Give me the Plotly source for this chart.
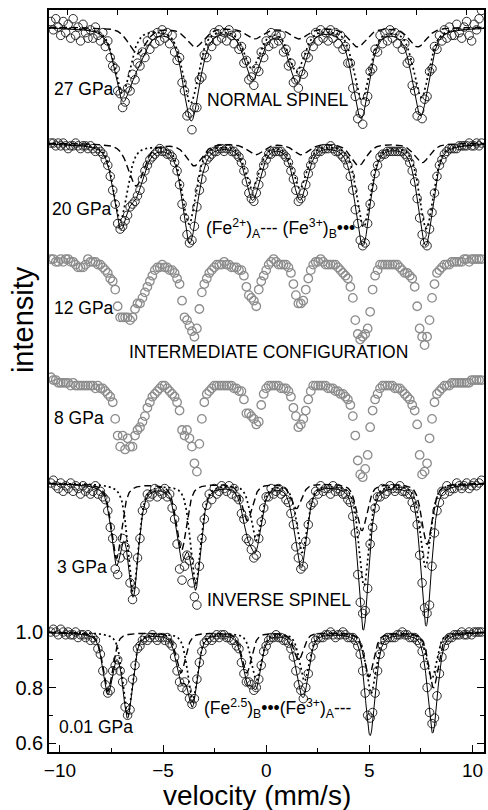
import numpy as np
import plotly.graph_objects as go

# ---------------- data ----------------
# velocity channels (mm/s)
v_start, v_step, n_ch = -10.44, 0.12, 175
velocity = np.round(v_start + v_step * np.arange(n_ch), 2)

pressures = ["27 GPa", "20 GPa", "12 GPa", "8 GPa", "3 GPa", "0.01 GPa"]
# vertical offset of each spectrum (intensity units)
offsets = [2.180, 1.762, 1.344, 0.908, 0.537, 0.0]

# measured absorption (% of baseline) at each velocity channel
absorption_27 = [-2, 1, -3, 0,
                 3, -2, 2, -1, 4, -3, 3, 0, 5, -1, 2, 4, 1,
                 4, 0, 3,
                 5, 2, 7, 5, 11,
                 14, 15, 23, 24, 29, 27, 22, 23, 17, 19, 13, 14, 9,
                 11, 5, 8, 3, 6, 2, 5, 1, 4, 2, 6, 3, 9,
                 12, 11, 20, 23, 32, 31, 37, 29, 29, 19, 18, 10,
                 11, 5, 7, 2, 5, 1, 4, 2, 5, 1, 3, 6, 3, 8, 7,
                 13, 12, 19, 18, 21, 15, 16, 9,
                 11, 5, 7, 2, 6, 3, 5, 3, 9, 8,
                 14, 13, 20, 19, 22, 16, 17, 10,
                 11, 5, 7, 2, 5, 1, 4, 2, 5, 1, 4, 2, 6, 3, 8, 7,
                 13, 13, 22, 25, 33, 31, 35, 27, 25, 16, 15,
                 8, 9, 3, 6, 2, 5, 1, 4, 2, 6, 3, 8, 6,
                 13, 12, 21, 23, 32, 30, 33, 26, 25, 16, 15,
                 7, 8, 3, 5, 1, 4, 0, 3,
                 3, -1, 2, 4, 0, -2, 3, 5, -1, 1, -3, -6]
absorption_20 = [0, 0, 1, 0,
                 1, 0, 1, 2, 1, 1, 0, 1, 2, 1, 1, 2, 1,
                 2, 3, 2,
                 3, 4, 6, 8,
                 12, 17, 22, 29, 31, 30, 28, 26, 23, 22, 21, 19, 17, 13, 10,
                 8, 6, 5, 4, 3, 2, 3, 3, 4, 4, 5, 7,
                 10, 15, 22, 27, 33, 36, 35, 30, 23, 17, 13,
                 9, 6, 5, 4, 3, 3, 2, 2, 3, 2, 2, 3, 3, 4, 5, 7,
                 10, 14, 18, 20, 21, 18, 15, 11,
                 8, 6, 4, 4, 3, 3, 3, 3, 4, 5, 7,
                 10, 13, 17, 21, 20, 18, 15, 11,
                 8, 6, 4, 3, 3, 2, 2, 2, 1, 2, 3, 3, 4, 5, 6, 8,
                 12, 17, 24, 29, 35, 37, 36, 29, 22, 16, 11,
                 8, 5, 4, 4, 3, 3, 3, 3, 3, 3, 3, 4, 5, 7,
                 10, 14, 20, 27, 33, 36, 37, 31, 25, 18, 12,
                 8, 6, 4, 3, 2, 2, 2, 2,
                 1, 1, 1, 1, 0, 1, 1, 0, 1, 0]
absorption_12 = [0, 0, 1, 1, 0, 1, 0, 0, 1, 1, 2, 3, 3, 3, 2, 0, 1, 1, 1, 2,
                 2, 3, 4, 5, 7, 8, 11, 17, 21, 21, 21, 21, 22, 21, 18, 16, 16, 14, 12, 10,
                 8, 6, 4, 3, 3, 2, 3, 3, 4, 4, 5, 7, 9, 15, 21, 22, 24, 26, 28, 25,
                 18, 12, 9, 7, 5, 4, 3, 2, 2, 2, 1, 2, 2, 3, 3, 3, 4, 4, 6, 10,
                 13, 14, 15, 17, 11, 8, 6, 4, 2, 1, 0, 1, 2, 2, 2, 2, 3, 5, 9, 13,
                 16, 16, 15, 11, 7, 4, 2, 1, 1, 0, 1, 2, 2, 2, 2, 2, 3, 4, 5, 6,
                 7, 10, 14, 22, 27, 29, 28, 27, 25, 19, 11, 6, 4, 2, 2, 2, 2, 2, 2, 2,
                 2, 3, 4, 5, 5, 6, 7, 10, 17, 25, 28, 31, 28, 22, 14, 9, 5, 4, 3, 2,
                 2, 2, 1, 1, 1, 1, 1, 0, 0, 1, 0, 0, 0, 0, 0]
absorption_8 = [-1, 0, 0, 1, 1, 1, 1, 1, 2, 1, 2, 2, 2, 2, 2, 2, 2, 2, 3, 2,
                3, 3, 4, 5, 6, 8, 14, 20, 24, 20, 25, 21, 24, 24, 20, 18, 17, 15, 13, 10,
                8, 6, 5, 4, 3, 2, 2, 3, 4, 5, 6, 8, 11, 18, 20, 18, 21, 24, 30, 33,
                23, 14, 8, 5, 4, 3, 2, 2, 2, 2, 2, 2, 2, 2, 3, 3, 4, 4, 7, 12,
                12, 13, 14, 16, 15, 9, 5, 3, 2, 2, 2, 2, 2, 3, 3, 3, 4, 6, 10, 13,
                17, 16, 14, 11, 7, 4, 2, 2, 2, 2, 2, 2, 3, 3, 3, 4, 4, 5, 5, 6,
                7, 9, 13, 20, 29, 34, 35, 32, 27, 17, 11, 7, 5, 3, 2, 2, 2, 2, 2, 3,
                3, 3, 4, 5, 6, 7, 9, 11, 16, 27, 34, 33, 30, 21, 14, 8, 5, 4, 3, 2,
                2, 2, 1, 1, 1, 1, 1, 1, 1, 1, 0, 0, 0, 0, 0]
absorption_3 = [0, -1, 1, 2, 0, 3, 1,
                2, 0, 3, 1, 2, 4, 1, 3, 2, 4,
                3, 1, 4, 3, 5, 6, 10,
                16, 20, 31, 33, 27, 20, 23, 26, 36, 42, 39, 27, 20, 10,
                8, 4, 5, 4, 2, 5, 3, 4, 2, 5, 4, 9,
                13, 22, 31, 35, 30, 26, 28, 36, 41, 44, 30, 20, 13,
                8, 4, 6, 2, 4, 3, 1, 2, 3, 1, 4, 2, 5, 6,
                11, 13, 20, 21, 24, 27, 26, 20, 14,
                9, 5, 5, 2, 4, 3, 2, 4, 3, 6, 7,
                11, 15, 23, 27, 31, 30, 21, 15,
                8, 7, 3, 4, 1, 3, 2, 2, 4, 1, 3, 2, 3, 4, 4, 6, 7,
                12, 18, 33, 43, 47, 46, 38, 22, 16,
                9, 5, 5, 2, 4, 3, 1, 2, 3, 2, 1, 3, 3, 4, 4, 7, 9,
                15, 26, 36, 45, 47, 44, 30, 18, 10,
                7, 3, 4, 1, 3, 2, 2, 0, 1, 2, 1, 0, 2, 1, 0, 1, 0, -1]
absorption_001 = [0, -1, 0, 1, -1, 0, 1, 0, 1,
                  1, 0, 2, 1, 1, 2, 1, 3, 2, 3, 6, 8,
                  14, 19, 22, 21, 14, 12, 10, 14, 18, 27, 30, 28, 17, 12,
                  6, 5, 3, 2, 3, 2, 1, 2, 3, 2, 2, 3, 2, 4, 5, 9,
                  14, 18, 20, 18, 21, 24, 26, 24, 17, 11,
                  7, 4, 3, 2, 3, 2, 1, 2, 1, 1, 2, 2, 3, 3, 5, 6,
                  11, 15, 18, 18, 19, 21, 20, 17, 12,
                  7, 5, 3, 2, 2, 1, 2, 2, 3, 3, 4, 6, 9,
                  14, 19, 21, 24, 20, 15,
                  9, 5, 3, 2, 2, 2, 1, 1, 0, 1, 2, 1, 1, 0, 1, 2, 2, 2, 3, 5, 8,
                  14, 22, 30, 31, 29, 22, 14,
                  8, 5, 3, 2, 2, 2, 2, 1, 1, 0, 1, 1, 2, 2, 2, 3, 4, 7,
                  12, 20, 29, 33, 31, 23, 15,
                  9, 5, 3, 2, 2, 1, 1, 1, 0, 1, 1, 0, 1, 0, 0, 0, 0]
absorption = [absorption_27, absorption_20, absorption_12, absorption_8, absorption_3, absorption_001]
fitted = [True, True, False, False, True, True]

# fitted sub-spectra (line position mm/s, depth, half width)
# dashed = site giving the "---" sub-spectrum, dotted = "•••" sub-spectrum
dash_pos = {"27 GPa": [-6.26, -3.44, -0.56, 1.60, 4.43, 7.35], "20 GPa": [-6.31, -3.49, -0.52, 1.70, 4.48, 7.55],
            "3 GPa": [-7.26, -4.11, -0.92, 1.46, 4.64, 7.80], "0.01 GPa": [-7.68, -4.14, -0.95, 1.57, 4.98, 8.11]}
dash_depth = {"27 GPa": [0.095, 0.07, 0.04, 0.04, 0.07, 0.07], "20 GPa": [0.154, 0.08, 0.04, 0.04, 0.08, 0.07],
              "3 GPa": [0.27, 0.242, 0.133, 0.09, 0.17, 0.22], "0.01 GPa": [0.213, 0.146, 0.146, 0.10, 0.16, 0.20]}
dash_hw = {"27 GPa": 0.50, "20 GPa": 0.45, "3 GPa": 0.30, "0.01 GPa": 0.28}
dot_pos = {"27 GPa": [-6.97, -3.67, -0.69, 1.47, 4.63, 7.52], "20 GPa": [-7.07, -3.74, -0.68, 1.63, 4.72, 7.76],
           "3 GPa": [-6.45, -3.42, -0.49, 1.74, 4.74, 7.72], "0.01 GPa": [-6.72, -3.57, -0.48, 1.85, 5.08, 8.02]}
dot_depth = {"27 GPa": [0.236, 0.271, 0.142, 0.154, 0.259, 0.25], "20 GPa": [0.275, 0.288, 0.161, 0.158, 0.298, 0.305],
             "3 GPa": [0.39, 0.358, 0.202, 0.246, 0.366, 0.30], "0.01 GPa": [0.30, 0.248, 0.171, 0.175, 0.22, 0.17]}
dot_hw = {"27 GPa": 0.45, "20 GPa": 0.40, "3 GPa": 0.30, "0.01 GPa": 0.28}

x_ticks = [-10, -5, 0, 5, 10]
y_ticks = [0.6, 0.8, 1.0]


# ---------------- figure ----------------
def subspectrum(v, pos, depth, hw):
    out = np.zeros_like(v)
    for p, d in zip(pos, depth):
        r = ((v - p) / hw) ** 2
        out += d * (0.5 / (1 + r) + 0.5 * np.exp(-np.log(2) * r))
    return out


x_range = [-10.53, 10.56]
v_fine = np.linspace(x_range[0], x_range[1], 1500)
fig = go.Figure()
for name, off, absn, fit in zip(pressures, offsets, absorption, fitted):
    col = "#2a2a2a" if fit else "#8c8c8c"
    y = 1 - np.array(absn) / 100.0 + off
    fig.add_trace(go.Scatter(x=velocity, y=y, mode="markers", name=name,
                             marker=dict(symbol="circle-open", size=8.5, color=col,
                                         line=dict(width=1.0 if fit else 1.3, color=col)),
                             showlegend=False, hoverinfo="skip"))
    if fit:
        a = subspectrum(v_fine, dash_pos[name], dash_depth[name], dash_hw[name])
        b = subspectrum(v_fine, dot_pos[name], dot_depth[name], dot_hw[name])
        fig.add_trace(go.Scatter(x=v_fine, y=1 - a + off, mode="lines", showlegend=False, hoverinfo="skip",
                                 line=dict(color="black", width=1.4, dash="7px,4px")))
        fig.add_trace(go.Scatter(x=v_fine, y=1 - b + off, mode="lines", showlegend=False, hoverinfo="skip",
                                 line=dict(color="black", width=1.7, dash="2px,3px")))
        fig.add_trace(go.Scatter(x=v_fine, y=1 - a - b + off, mode="lines", showlegend=False, hoverinfo="skip",
                                 line=dict(color="black", width=1.0)))

# invisible trace so the top (mirror) tick axis is drawn
fig.add_trace(go.Scatter(x=[0], y=[1], xaxis="x2", mode="markers", marker=dict(opacity=0),
                         showlegend=False, hoverinfo="skip"))

FONT = "Liberation Sans, Arial, sans-serif"
fig.update_layout(
    width=488, height=810, margin=dict(l=49, r=2, t=10, b=58),
    paper_bgcolor="white", plot_bgcolor="white", font=dict(family=FONT, color="black"),
    xaxis=dict(range=x_range, tickvals=x_ticks, ticks="inside", ticklen=7, tickwidth=1.3, tickcolor="black",
               minor=dict(tickvals=[-7.5, -2.5, 2.5, 7.5], ticks="inside", ticklen=4, tickwidth=1.3, tickcolor="black"),
               showline=True, linecolor="black", linewidth=1.6, mirror=True, showgrid=False, zeroline=False,
               tickfont=dict(size=19)),
    xaxis2=dict(range=[-10.95, 10.9], overlaying="x", side="top",
                tickvals=[-10, -7.5, -5, -2.5, 0, 2.5, 5, 7.5, 10], ticks="inside", ticklen=5, tickwidth=1.3,
                tickcolor="black", showticklabels=False, showgrid=False, zeroline=False, showline=False),
    yaxis=dict(range=[0.5676, 3.2415], tickvals=y_ticks, ticktext=["%.1f" % t for t in y_ticks], ticks="inside",
               ticklen=7, tickwidth=1.3, tickcolor="black",
               minor=dict(tickvals=[0.7, 0.9], ticks="inside", ticklen=4, tickwidth=1.3, tickcolor="black"),
               showline=True, linecolor="black", linewidth=1.6, mirror="ticks", showgrid=False, zeroline=False,
               tickfont=dict(size=20)),
)


def px2paper(px, py):
    return (px - 49) / 437, (752 - py) / 742


labels = [("27 GPa", 52, 89), ("NORMAL SPINEL", 206, 100), ("20 GPa", 50, 209),
          ("(Fe<sup>2+</sup>)<sub>A</sub>--- (Fe<sup>3+</sup>)<sub>B</sub>•••", 205, 228),
          ("12 GPa", 52, 308), ("INTERMEDIATE CONFIGURATION", 127, 352), ("8 GPa", 52, 418),
          ("3 GPa", 55, 567), ("INVERSE SPINEL", 206, 600), ("0.01 GPa", 57, 727),
          ("(Fe<sup>2.5</sup>)<sub>B</sub>•••(Fe<sup>3+</sup>)<sub>A</sub>---", 203, 708)]
for t, px, py in labels:
    xp, yp = px2paper(px, py)
    fig.add_annotation(text=t, x=xp, y=yp, xref="paper", yref="paper", xanchor="left", yanchor="middle",
                       showarrow=False, font=dict(size=17.5, family=FONT))
xp, yp = px2paper(23, 320)
fig.add_annotation(text="intensity", x=xp, y=yp, xref="paper", yref="paper", textangle=-90, showarrow=False,
                   xanchor="center", yanchor="middle", font=dict(size=29, family=FONT))
xp, yp = px2paper(258, 795)
fig.add_annotation(text="velocity (mm/s)", x=xp, y=yp, xref="paper", yref="paper", showarrow=False,
                   xanchor="center", yanchor="middle", font=dict(size=28, family=FONT))

fig.write_html("out.html")
